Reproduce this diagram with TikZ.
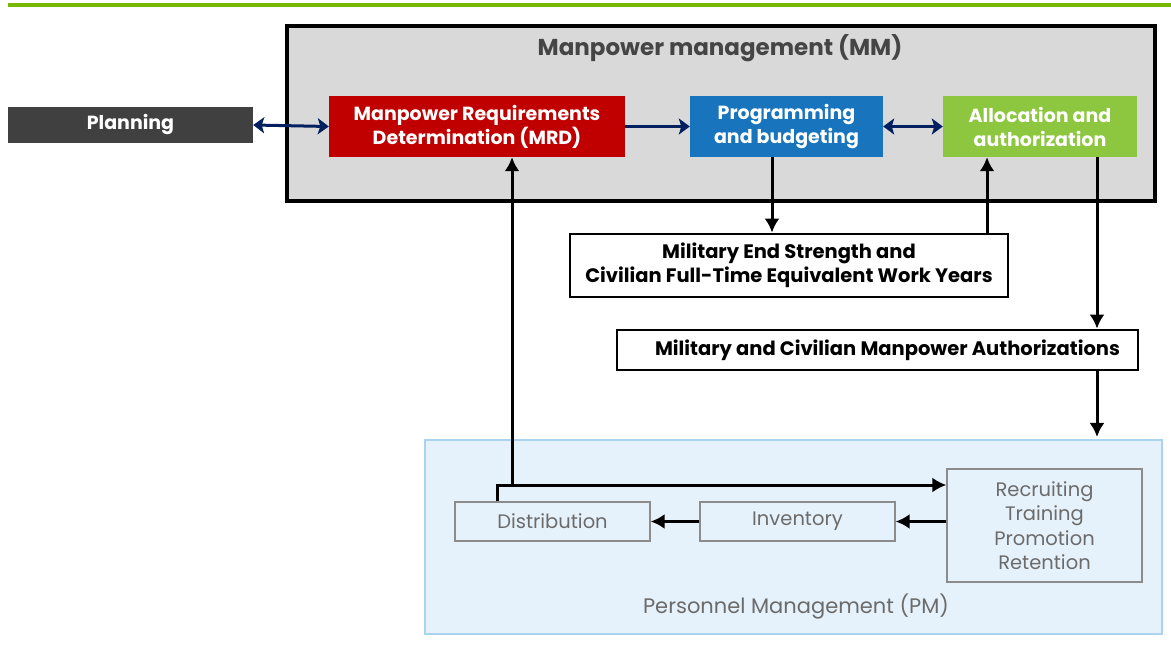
\documentclass[tikz,border=0pt]{standalone}
\usepackage{fontspec}
\setmainfont{Poppins}
\usetikzlibrary{arrows.meta,calc}
\definecolor{topgreen}{HTML}{77B800}
\definecolor{mmgray}{HTML}{D9D9D9}
\definecolor{darkbox}{HTML}{404040}
\definecolor{titlegray}{HTML}{454545}
\definecolor{mrdred}{HTML}{C00000}
\definecolor{progblue}{HTML}{1874BC}
\definecolor{allocgreen}{HTML}{8DC63F}
\definecolor{navy}{HTML}{002060}
\definecolor{pmfill}{HTML}{E6F2FB}
\definecolor{pmedge}{HTML}{A9D3EF}
\definecolor{pmtext}{HTML}{6B6B6B}
\definecolor{pmbox}{HTML}{8C8C8C}
\begin{document}
\begin{tikzpicture}[x=1pt,y=-1pt,
  solid box/.style={inner sep=0pt, align=center, text=white,
    font=\fontsize{19}{24}\selectfont\bfseries},
  out box/.style={draw=black, line width=2.8pt, fill=white, inner sep=0pt,
    align=center, font=\fontsize{19.5}{24.5}\selectfont\bfseries},
  pm box/.style={draw=pmbox, line width=1.3pt, inner sep=0pt, align=center,
    text=pmtext, font=\fontsize{19.5}{24.5}\selectfont},
  navyhead/.tip={Stealth[length=11pt,width=16pt,inset=2.5pt]},
  navyarrow/.style={draw=navy, line width=3pt, navyhead-navyhead},
  navyone/.style={draw=navy, line width=3pt, -navyhead},
  flow/.style={draw=black, line width=3pt, -{Latex[length=14pt,width=15pt]}},
  plain/.style={draw=black, line width=3pt}]
\useasboundingbox (0,0) rectangle (1171,652);
\fill[white] (0,0) rectangle (1171,652);
% header rule
\fill[topgreen] (8,3) rectangle (1171,7.5);

% manpower management frame
\node[draw=black, line width=3.5pt, fill=mmgray, minimum width=868pt,
  minimum height=175pt, inner sep=0pt] (mm) at (721,113.5) {};
\node[text=titlegray, font=\fontsize{23}{28}\selectfont\bfseries] (mmtitle)
  at (720,48) {Manpower management (MM)};

\node[solid box, fill=darkbox, minimum width=245pt, minimum height=36pt]
  (plan) at (130.5,125) {Planning};
\node[solid box, fill=mrdred, minimum width=296pt, minimum height=61pt]
  (mrd) at (477,126.5) {Manpower Requirements\\Determination (MRD)};
\node[solid box, fill=progblue, minimum width=193pt, minimum height=61pt]
  (prog) at (786.5,126.5) {Programming\\and budgeting};
\node[solid box, fill=allocgreen, minimum width=194pt, minimum height=61pt]
  (alloc) at (1040,126.5) {Allocation and\\authorization};

\draw[navyarrow] (plan.east) -- (mrd.west);
\draw[navyone] (mrd.east) -- (prog.west);
\draw[navyarrow] (prog.east) -- (alloc.west);

% outputs
\node[out box, minimum width=438pt, minimum height=63pt] (mes) at (789,265.5)
  {Military End Strength and\\Civilian Full-Time Equivalent Work Years};
\node[out box, minimum width=521pt, minimum height=40pt] (mcma) at (877.5,350)
  {\hspace*{20pt}Military and Civilian Manpower Authorizations};

% personnel management frame
\node[draw=pmedge, line width=2pt, fill=pmfill, minimum width=737pt,
  minimum height=194pt, inner sep=0pt] (pm) at (793.5,537) {};
\node[text=pmtext, font=\fontsize{21}{26}\selectfont] (pmtitle)
  at (796,607) {Personnel Management (PM)};
\node[pm box, minimum width=195pt, minimum height=39pt] (dist) at (552.5,521.5)
  {Distribution};
\node[pm box, minimum width=195pt, minimum height=39pt] (inv) at (797.5,521.5)
  {Inventory};
\node[pm box, minimum width=195pt, minimum height=113pt] (rtpr) at (1044.5,525.5)
  {Recruiting\\Training\\Promotion\\Retention};

% connector columns
\coordinate (cprog) at (772,0);
\coordinate (cmes) at (987,0);
\coordinate (calloc) at (1097,0);
\coordinate (cdist) at (497,0);
\coordinate (cup) at (512,0);
\coordinate (jrow) at (0,485);

\draw[flow] (prog.south -| cprog) -- (mes.north -| cprog);
\draw[flow] (mes.north -| cmes) -- (alloc.south -| cmes);
\draw[flow] (alloc.south -| calloc) -- (mcma.north -| calloc);
\draw[flow, shorten >=2pt] (mcma.south -| calloc) -- (pm.north -| calloc);

\draw[flow] (rtpr.west |- inv.east) -- (inv.east);
\draw[flow] (inv.west) -- (dist.east);
\draw[flow] (dist.north -| cdist) -- (cdist |- jrow) -- (rtpr.west |- jrow);
\draw[flow] (cup |- jrow) -- (mrd.south -| cup);
\end{tikzpicture}
\end{document}
